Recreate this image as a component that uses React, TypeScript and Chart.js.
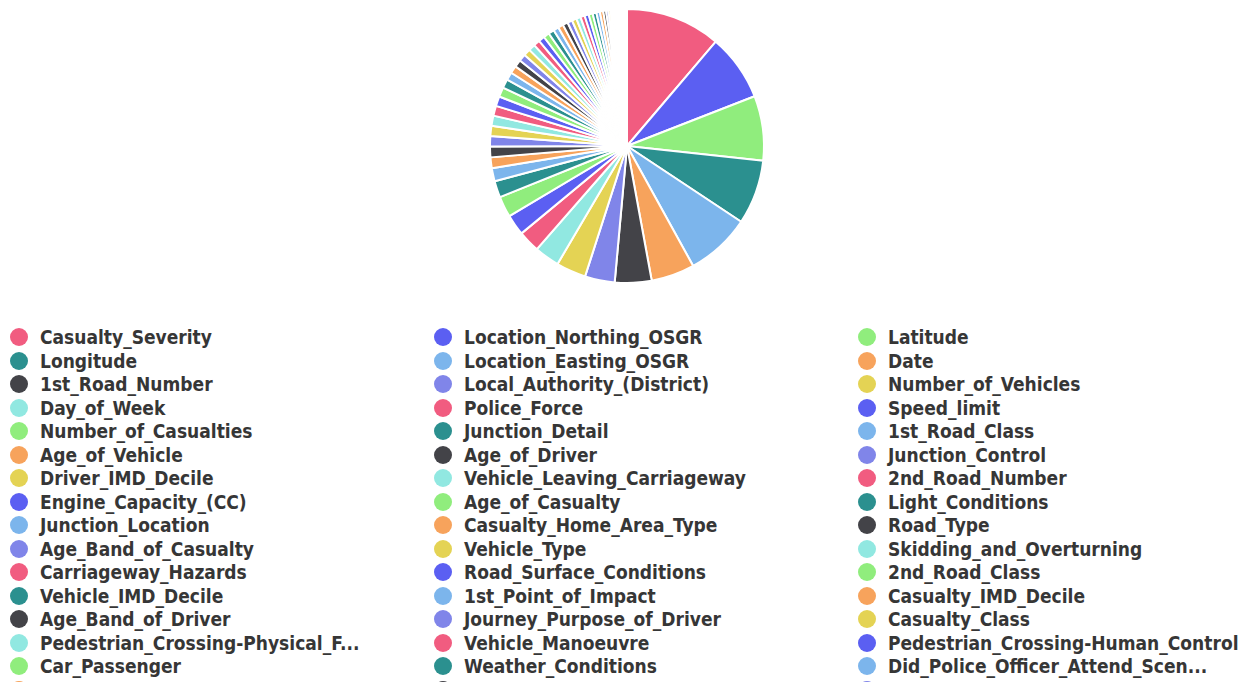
import React, { useEffect, useRef } from "react";
import { Chart, registerables } from "chart.js";

Chart.register(...registerables);

const featureNames: string[] = [
  "Casualty_Severity", "Location_Northing_OSGR", "Latitude", "Longitude", "Location_Easting_OSGR",
  "Date", "1st_Road_Number", "Local_Authority_(District)", "Number_of_Vehicles", "Day_of_Week",
  "Police_Force", "Speed_limit", "Number_of_Casualties", "Junction_Detail", "1st_Road_Class",
  "Age_of_Vehicle", "Age_of_Driver", "Junction_Control", "Driver_IMD_Decile", "Vehicle_Leaving_Carriageway",
  "2nd_Road_Number", "Engine_Capacity_(CC)", "Age_of_Casualty", "Light_Conditions", "Junction_Location",
  "Casualty_Home_Area_Type", "Road_Type", "Age_Band_of_Casualty", "Vehicle_Type", "Skidding_and_Overturning",
  "Carriageway_Hazards", "Road_Surface_Conditions", "2nd_Road_Class", "Vehicle_IMD_Decile", "1st_Point_of_Impact",
  "Casualty_IMD_Decile", "Age_Band_of_Driver", "Journey_Purpose_of_Driver", "Casualty_Class", "Pedestrian_Crossing-Physical_Facilities",
  "Vehicle_Manoeuvre", "Pedestrian_Crossing-Human_Control", "Car_Passenger", "Weather_Conditions", "Did_Police_Officer_Attend_Scene_of_Accident",
  "Driver_Home_Area_Type", "Hit_Object_off_Carriageway", "Pedestrian_Location", "Sex_of_Driver", "Urban_or_Rural_Area",
  "Hit_Object_in_Carriageway", "Pedestrian_Movement", "Casualty_Type", "Sex_of_Casualty", "Propulsion_Code",
  "Vehicle_Location-Restricted_Lane", "Towing_and_Articulation", "Special_Conditions_at_Site", "Bus_or_Coach_Passenger", "Was_Vehicle_Left_Hand_Drive",
  "Pedestrian_Road_Maintenance_Worker", "Vehicle_Reference", "Casualty_Reference", "Time", "Year",
  "InScotland", "make", "model", "Vehicle_Home_Area_Type", "Accident_Index",
  "LSOA_of_Accident_Location", "Number_of_Passengers",
];

const importance: number[] = [
  40.2, 28.2, 27.3, 27.3, 27.4, 18.4, 15.5, 12.6, 12.6, 10.6,
  9.2, 8.8, 8.8, 7.0, 5.5, 4.6, 4.5, 4.4, 4.3, 4.3,
  4.2, 4.1, 4.0, 3.8, 3.3, 3.2, 3.1, 3.0, 2.9, 2.8,
  2.7, 2.6, 2.5, 2.4, 2.3, 2.2, 2.15, 2.05, 1.95, 1.85,
  1.8, 1.75, 1.7, 1.6, 1.5, 1.4, 1.2, 1.0, 0.9, 0.8,
  0.7, 0.6, 0.5, 0.45, 0.4, 0.35, 0.3, 0.3, 0.28, 0.26,
  0.24, 0.22, 0.2, 0.2, 0.18, 0.16, 0.15, 0.14, 0.12, 0.12,
  0.1, 0.1,
];

const palette: string[] = [
  "#f15c80", "#5b5ff2", "#90ed7d", "#2b908f", "#7cb5ec",
  "#f7a35c", "#434348", "#8085e9", "#e4d354", "#91e8e1",
];

const colorAt = (i: number) => palette[i % palette.length];
const shortLabel = (s: string) => (s.length > 33 ? s.slice(0, 30) + "..." : s);

export default function App() {
  const canvasRef = useRef<HTMLCanvasElement | null>(null);

  useEffect(() => {
    if (!canvasRef.current) return;
    const chart = new Chart(canvasRef.current, {
      type: "pie",
      data: {
        labels: featureNames,
        datasets: [
          {
            data: importance,
            backgroundColor: featureNames.map((_, i) => colorAt(i)),
            borderColor: "#ffffff",
            borderWidth: 2,
          },
        ],
      },
      options: {
        responsive: true,
        maintainAspectRatio: false,
        animation: false,
        layout: { padding: { right: 2 } },
        plugins: {
          legend: { display: false },
          tooltip: { enabled: false },
        },
      },
    });
    return () => chart.destroy();
  }, []);

  return (
    <div style={{ height: 690, marginBottom: -16, overflow: "hidden", width: 1240 }}>
      <div style={{ position: "relative", height: 276, width: 1240 }}>
        <canvas ref={canvasRef} />
      </div>
      <div
        style={{
          marginTop: 41.25,
          paddingLeft: 2,
          display: "grid",
          gridTemplateColumns: "424px 424px 424px",
          fontFamily: "'DejaVu Sans Condensed', 'DejaVu Sans', sans-serif",
          fontStretch: "condensed",
          fontWeight: "bold",
          fontSize: 19,
          color: "#363636",
        }}
      >
        {featureNames.map((name, i) => (
          <div
            key={name}
            style={{
              height: 23.5,
              display: "flex",
              alignItems: "center",
              whiteSpace: "nowrap",
            }}
          >
            <span
              style={{
                display: "inline-block",
                width: 18,
                height: 18,
                borderRadius: "50%",
                background: colorAt(i),
                flex: "none",
              }}
            />
            <span style={{ marginLeft: 12 }}>{shortLabel(name)}</span>
          </div>
        ))}
      </div>
    </div>
  );
}
